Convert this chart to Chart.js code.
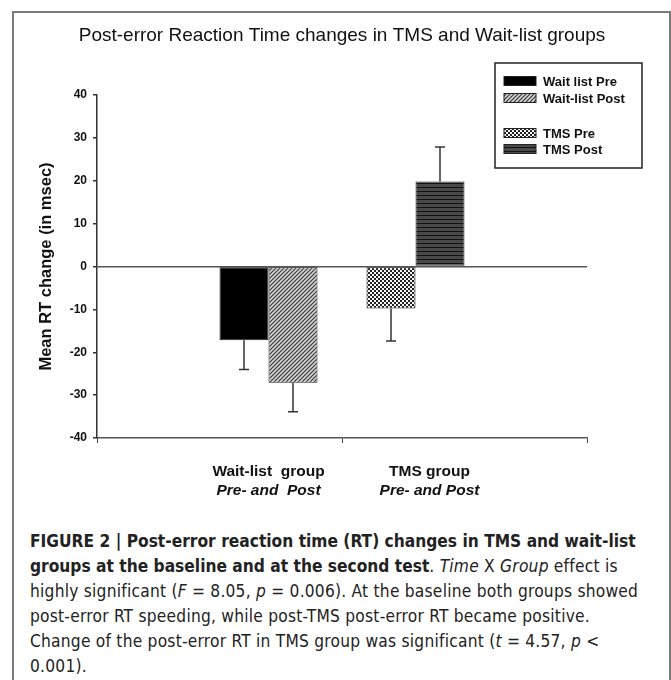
<!DOCTYPE html>
<html lang="en">
<head>
<meta charset="UTF-8">
<title>Post-error RT changes</title>
<script src="https://cdn.jsdelivr.net/npm/chart.js"></script>
<style>
  body { margin: 0; background: #fff; }
  #frame { position: absolute; left: 12px; top: 11px; width: 655px; height: 720px;
           border: 2px solid #7a7a7a; border-bottom: none; }
  #Chart { position: absolute; left: 0; top: 0; width: 671px; height: 520px; }
  #caption { position: absolute; left: 30px; top: 528px; width: 700px;
             font-family: "DejaVu Sans Condensed", "Liberation Sans Narrow", "Liberation Sans", Arial, sans-serif;
             font-size: 18.5px; line-height: 25px; color: #222; white-space: nowrap;
             letter-spacing: 0.25px;
             transform: scaleX(0.93); transform-origin: left top; }
  #caption b { font-weight: bold; letter-spacing: 0; }
</style>
</head>
<body>
<div id="frame"></div>
<div id="Chart"><canvas id="myChart"></canvas></div>
<div id="caption">
  <b>FIGURE 2 | Post-error reaction time (RT) changes in TMS and wait-list</b><br>
  <b>groups at the baseline and at the second test</b>. <i>Time</i> X <i>Group</i> effect is<br>
  highly significant (<i>F</i> = 8.05, <i>p</i> = 0.006). At the baseline both groups showed<br>
  post-error RT speeding, while post-TMS post-error RT became positive.<br>
  Change of the post-error RT in TMS group was significant (<i>t</i> = 4.57, <i>p</i> &lt;<br>
  0.001).
</div>

<script>
  // data
  const categories = ['Wait-list  group', 'TMS group'];
  const subLabels = ['Pre- and  Post', 'Pre- and Post'];

  // Excel put all four series in each group, TMS first
  const tmsPre = [null, -9.8];
  const tmsPost = [null, 19.8];
  const waitPre = [-17.2, null];
  const waitPost = [-27.1, null];

  const tmsPreErr = [null, 7.6];
  const tmsPostErr = [null, 8.1];
  const waitPreErr = [6.8, null];
  const waitPostErr = [6.8, null];

  const yMin = -40, yMax = 40, yStep = 10;

  // legend rows: dataset index, -1 = empty row
  const legendOrder = [2, 3, -1, 0, 1];

  function makePattern(w, h, draw) {
    const c = document.createElement('canvas');
    c.width = w; c.height = h;
    const g = c.getContext('2d');
    draw(g);
    return g.createPattern(c, 'repeat');
  }

  const ctx = document.getElementById('myChart').getContext('2d');

  const diagPattern = makePattern(4, 4, g => {
    g.fillStyle = '#d4d4d4'; g.fillRect(0, 0, 4, 4);
    g.strokeStyle = '#333'; g.lineWidth = 1.1;
    g.beginPath(); g.moveTo(-1, 5); g.lineTo(5, -1); g.stroke();
    g.beginPath(); g.moveTo(-1, 1); g.lineTo(1, -1); g.stroke();
    g.beginPath(); g.moveTo(3, 5); g.lineTo(5, 3); g.stroke();
  });
  const checkPattern = makePattern(4, 4, g => {
    g.fillStyle = '#f4f4f4'; g.fillRect(0, 0, 4, 4);
    g.fillStyle = '#222'; g.fillRect(0, 0, 2, 2); g.fillRect(2, 2, 2, 2);
  });
  const stripePattern = makePattern(4, 4, g => {
    g.fillStyle = '#4a4a4a'; g.fillRect(0, 0, 4, 4);
    g.fillStyle = '#111'; g.fillRect(0, 3, 4, 1.3);
  });

  const errors = [tmsPreErr, tmsPostErr, waitPreErr, waitPostErr];

  const errorBars = {
    id: 'errorBars',
    afterDatasetsDraw(chart) {
      const c = chart.ctx;
      c.save();
      c.strokeStyle = '#333';
      c.lineWidth = 1.5;
      chart.data.datasets.forEach((ds, di) => {
        const meta = chart.getDatasetMeta(di);
        ds.data.forEach((v, i) => {
          if (v === null) return;
          const bar = meta.data[i];
          const end = v + Math.sign(v) * errors[di][i];
          const y2 = chart.scales.y.getPixelForValue(end);
          c.beginPath();
          c.moveTo(bar.x, bar.y); c.lineTo(bar.x, y2);
          c.moveTo(bar.x - 5, y2); c.lineTo(bar.x + 5, y2);
          c.stroke();
        });
      });
      c.restore();
    }
  };

  const groupLabels = {
    id: 'groupLabels',
    afterDraw(chart) {
      const c = chart.ctx;
      const xs = chart.scales.x;
      c.save();
      c.fillStyle = '#111';
      c.textAlign = 'center';
      c.textBaseline = 'middle';
      categories.forEach((cat, i) => {
        // centre of the bars actually drawn in this group
        let sum = 0, n = 0;
        chart.data.datasets.forEach((ds, di) => {
          if (ds.data[i] !== null) { sum += chart.getDatasetMeta(di).data[i].x; n++; }
        });
        const x = n ? sum / n + (i === 1 ? 14 : 0) : xs.getPixelForValue(i);
        c.font = 'bold 15.5px "Liberation Sans", Arial, sans-serif';
        c.fillText(cat, x, xs.top + 34);
        c.font = 'italic bold 15.5px "Liberation Sans", Arial, sans-serif';
        c.fillText(subLabels[i], x, xs.top + 53);
      });
      c.restore();
    }
  };

  const boxLegend = {
    id: 'boxLegend',
    afterDraw(chart) {
      const c = chart.ctx;
      const left = 495, top = 63, w = 147, h = 105;
      const rowY = [81, 98, 115, 133, 149];
      c.save();
      c.fillStyle = '#fff';
      c.fillRect(left, top, w, h);
      c.strokeStyle = '#222';
      c.lineWidth = 1.5;
      c.strokeRect(left, top, w, h);
      c.font = 'bold 13px "Liberation Sans", Arial, sans-serif';
      c.textBaseline = 'middle';
      legendOrder.forEach((di, r) => {
        if (di < 0) return;
        const ds = chart.data.datasets[di];
        c.fillStyle = ds.backgroundColor;
        c.fillRect(504, rowY[r] - 4.5, 32, 9);
        c.lineWidth = 1;
        c.strokeStyle = '#222';
        c.strokeRect(504, rowY[r] - 4.5, 32, 9);
        c.fillStyle = '#111';
        c.fillText(ds.label, 543, rowY[r] + 1);
      });
      c.restore();
    }
  };

  new Chart(ctx, {
    type: 'bar',
    data: {
      labels: categories,
      datasets: [
        { label: 'TMS Pre', data: tmsPre, backgroundColor: checkPattern },
        { label: 'TMS Post', data: tmsPost, backgroundColor: stripePattern },
        { label: 'Wait list Pre', data: waitPre, backgroundColor: '#000' },
        { label: 'Wait-list Post', data: waitPost, backgroundColor: diagPattern }
      ].map(d => Object.assign(d, { borderColor: '#222', borderWidth: 1, borderSkipped: false }))
    },
    options: {
      responsive: true,
      maintainAspectRatio: false,
      animation: false,
      categoryPercentage: 0.8,
      barPercentage: 1.0,
      layout: { padding: { left: 13, right: 0, top: 0, bottom: 0 } },
      plugins: {
        legend: { display: false },
        tooltip: { enabled: false },
        title: {
          display: true,
          text: 'Post-error Reaction Time changes in TMS and Wait-list groups',
          color: '#111',
          font: { family: '"Liberation Sans", Arial, sans-serif', size: 19, weight: 'normal' },
          padding: { top: 24.6, bottom: 47.6 }
        }
      },
      scales: {
        x: {
          ticks: { display: false },
          grid: { drawOnChartArea: false, tickLength: 5, color: '#444' },
          border: { color: '#555', width: 1.5 },
          afterFit(s) { s.height = 82; }
        },
        y: {
          min: yMin,
          max: yMax,
          ticks: {
            stepSize: yStep,
            padding: 6,
            color: '#111',
            font: { family: '"Liberation Sans", Arial, sans-serif', size: 12, weight: 'bold' }
          },
          grid: {
            tickLength: 4,
            tickColor: '#333',
            lineWidth: 1.5,
            color: c => c.tick && c.tick.value === 0 ? '#555' : 'rgba(0,0,0,0)'
          },
          border: { color: '#333', width: 1.5 },
          title: {
            display: true,
            text: 'Mean RT change (in msec)',
            color: '#111',
            padding: { top: 24, bottom: 0 },
            font: { family: '"Liberation Sans", Arial, sans-serif', size: 16.5, weight: 'bold' }
          },
          afterFit(s) { s.width = 84; }
        },
        // empty right axis only reserves the space right of the plot
        yRight: {
          position: 'right',
          display: true,
          ticks: { display: false },
          grid: { display: false, drawTicks: false },
          border: { display: false },
          afterFit(s) { s.width = 84; }
        }
      }
    },
    plugins: [errorBars, groupLabels, boxLegend]
  });
</script>
</body>
</html>
